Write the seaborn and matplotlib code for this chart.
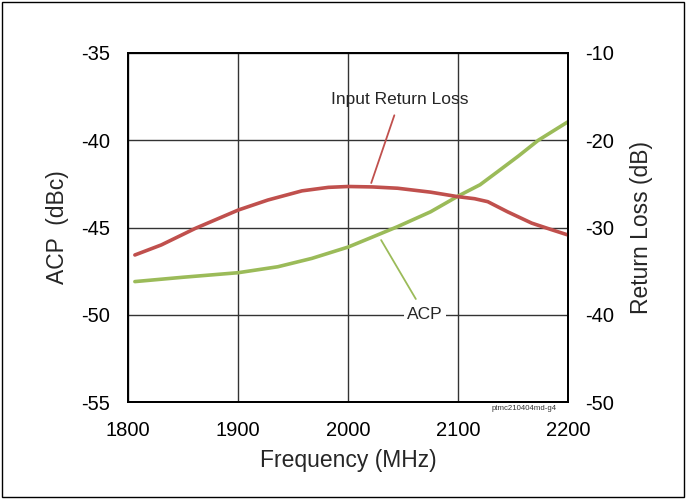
import matplotlib
matplotlib.use("Agg")
import matplotlib.pyplot as plt
import seaborn as sns
import pandas as pd
from matplotlib.patches import Rectangle

# data
freq_acp = [1806, 1850, 1900, 1936, 1967, 2000, 2022, 2045, 2075,
            2100, 2120, 2136, 2155, 2173, 2187, 2200]
acp = [-48.1, -47.85, -47.59, -47.25, -46.77, -46.12, -45.55, -44.95, -44.1,
       -43.2, -42.55, -41.8, -40.9, -40.0, -39.45, -38.94]

freq_rl = [1806, 1830, 1861, 1900, 1927, 1958, 1982, 2000, 2022, 2045,
           2075, 2100, 2115, 2127, 2145, 2167, 2185, 2200]
return_loss = [-33.15, -32.0, -30.1, -28.0, -26.85, -25.8, -25.4, -25.3, -25.35, -25.5,
               -25.95, -26.47, -26.7, -27.04, -28.2, -29.5, -30.25, -30.86]

df_acp = pd.DataFrame({"Frequency": freq_acp, "ACP": acp})
df_rl = pd.DataFrame({"Frequency": freq_rl, "RL": return_loss})

sns.set_theme(style="white")
plt.rcParams["font.family"] = ["Liberation Sans", "DejaVu Sans"]
plt.rcParams["axes.unicode_minus"] = False

fig, ax = plt.subplots(figsize=(6.86, 5.0), dpi=100)
fig.subplots_adjust(left=0.187, right=0.828, top=0.894, bottom=0.196)
ax2 = ax.twinx()

sns.lineplot(data=df_acp, x="Frequency", y="ACP", ax=ax, color="#9BBB59", lw=2.6)
sns.lineplot(data=df_rl, x="Frequency", y="RL", ax=ax2, color="#C0504D", lw=2.6)

ax.set_xlim(1800, 2200)
ax.set_ylim(-55, -35)
ax2.set_ylim(-50, -10)
ax.set_xticks([1800, 1900, 2000, 2100, 2200])
ax.set_yticks([-55, -50, -45, -40, -35])
ax2.set_yticks([-50, -40, -30, -20, -10])
ax.grid(True, color="#333333", lw=1.0)
ax.set_axisbelow(True)

ax.tick_params(axis="x", labelsize=14.5, colors="black", length=0, pad=13.5)
ax.tick_params(axis="y", labelsize=14.5, colors="black", length=0, pad=13)
ax2.tick_params(axis="y", labelsize=14.5, colors="black", length=0, pad=12)
ax.set_xlabel("Frequency (MHz)", fontsize=16.5, labelpad=7)
ax.set_ylabel("ACP  (dBc)", fontsize=16.5, labelpad=9)
ax2.set_ylabel("Return Loss (dB)", fontsize=16.5, labelpad=12)

for a in (ax, ax2):
    for s in a.spines.values():
        s.set_color("black")
        s.set_linewidth(1.3)

# annotations
ax2.annotate("Input Return Loss", xy=(2021, -24.9), xytext=(2047, -15.3),
             ha="center", va="center", fontsize=12.5,
             arrowprops=dict(arrowstyle="-", color="#C0504D", lw=1.3, shrinkA=4, shrinkB=0))
ax.annotate("ACP", xy=(2030, -45.72), xytext=(2070, -50),
            ha="center", va="center", fontsize=12.5,
            bbox=dict(boxstyle="square,pad=0.2", fc="white", ec="none"),
            arrowprops=dict(arrowstyle="-", color="#9BBB59", lw=1.3, shrinkA=4, shrinkB=0))

ax.text(0.975, -0.01, "ptmc210404md-g4", transform=ax.transAxes,
        ha="right", va="top", fontsize=5.6, color="#333333")

fig.patches.append(Rectangle((0.003, 0.006), 0.994, 0.99, transform=fig.transFigure,
                             fill=False, ec="black", lw=1.0))

fig.savefig("out.png", dpi=100)
